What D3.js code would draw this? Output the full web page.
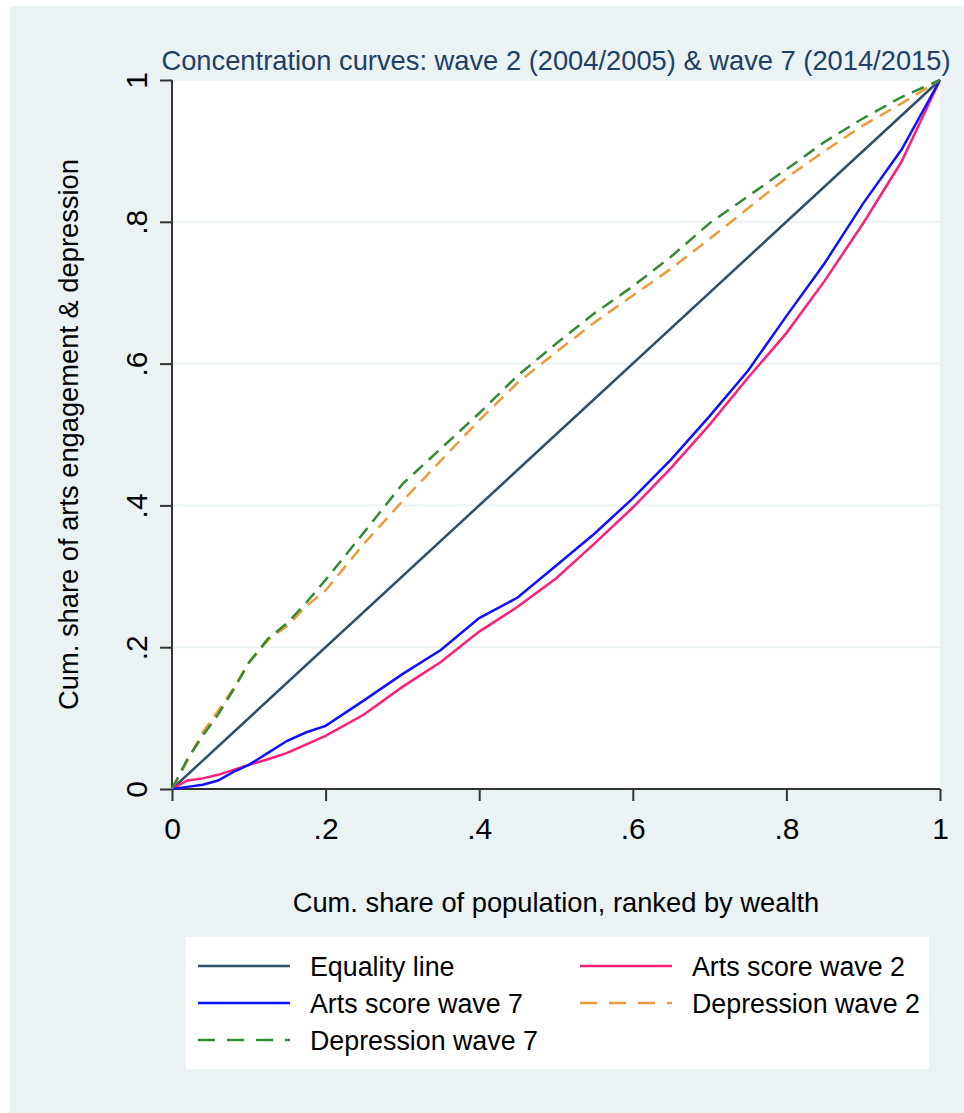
<!DOCTYPE html>
<meta charset="utf-8">
<script src="https://cdn.jsdelivr.net/npm/d3@7"></script>
<style>
  body { margin: 0; background: #fff; }
  text { font-family: Arial, "Liberation Sans", sans-serif; }
</style>
<div id="chart"></div>
<script>
// cumulative share of population (ranked by wealth)
var popShare = [0, .02, .04, .06, .08, .1, .125, .15, .175, .2, .25, .3, .35, .4, .45, .5, .55, .6, .65, .7, .75, .8, .85, .9, .95, 1];

// concentration curves
var artsW2 = [0, .012, .015, .02, .027, .034, .042, .051, .063, .075, .105, .144, .179, .222, .257, .297, .346, .397, .453, .514, .58, .643, .717, .798, .885, 1];
var artsW7 = [0, .003, .006, .012, .024, .034, .051, .068, .08, .089, .125, .162, .196, .241, .27, .315, .36, .41, .465, .526, .59, .667, .742, .826, .902, 1];
var depW2  = [0, .04, .08, .11, .142, .178, .21, .23, .258, .28, .346, .406, .463, .52, .573, .616, .658, .696, .734, .776, .819, .862, .90, .936, .967, 1];
var depW7  = [0, .042, .075, .105, .14, .178, .212, .234, .263, .295, .362, .43, .48, .53, .583, .628, .671, .709, .751, .798, .836, .874, .913, .946, .976, 1];
var equality = [0, 1];

var xTicks = [0, .2, .4, .6, .8, 1];
var yTicks = [0, .2, .4, .6, .8, 1];
var tickFmt = function(d) { return d === 0 ? "0" : d === 1 ? "1" : String(d).replace(/^0/, ""); };

var titleText = "Concentration curves: wave 2 (2004/2005) & wave 7 (2014/2015)";
var xTitle = "Cum. share of population, ranked by wealth";
var yTitle = "Cum. share of arts engagement & depression";

var series = [
  {name: "Equality line",      x: equality, y: equality, color: "#2f4e67", dash: null},
  {name: "Arts score wave 2",  x: popShare, y: artsW2,   color: "#ff1f7a", dash: null},
  {name: "Arts score wave 7",  x: popShare, y: artsW7,   color: "#1010ff", dash: null},
  {name: "Depression wave 2",  x: popShare, y: depW2,    color: "#ef9a3a", dash: "13,8"},
  {name: "Depression wave 7",  x: popShare, y: depW7,    color: "#338a33", dash: "13,8"}
];

var W = 964, H = 1113;
var plot = {left: 172, right: 940, top: 80, bottom: 789};

var svg = d3.select("#chart").append("svg")
  .attr("width", W).attr("height", H);

// outer background
svg.append("rect").attr("x", 10).attr("y", 6)
  .attr("width", W - 10).attr("height", H - 6)
  .attr("fill", "#eaf2f3");

// plot region
svg.append("rect").attr("x", plot.left).attr("y", plot.top)
  .attr("width", plot.right - plot.left).attr("height", plot.bottom - plot.top)
  .attr("fill", "#fff");

var x = d3.scaleLinear().domain([0, 1]).range([plot.left, plot.right]);
var y = d3.scaleLinear().domain([0, 1]).range([plot.bottom, plot.top]);

// gridlines
svg.append("g").selectAll("line")
  .data(yTicks.filter(function(d) { return d > 0; }))
  .enter().append("line")
    .attr("x1", plot.left).attr("x2", plot.right)
    .attr("y1", function(d) { return y(d); }).attr("y2", function(d) { return y(d); })
    .attr("stroke", "#eaf2f3").attr("stroke-width", 2);

// axes
var xAxis = svg.append("g")
  .attr("transform", "translate(0," + plot.bottom + ")")
  .call(d3.axisBottom(x).tickValues(xTicks).tickFormat(tickFmt).tickSize(12).tickPadding(17));
var yAxis = svg.append("g")
  .attr("transform", "translate(" + plot.left + ",0)")
  .call(d3.axisLeft(y).tickValues(yTicks).tickFormat(tickFmt).tickSize(12));

[xAxis, yAxis].forEach(function(a) {
  a.select(".domain").attr("stroke", "#333").attr("stroke-width", 2);
  a.selectAll(".tick line").attr("stroke", "#333").attr("stroke-width", 2);
  a.selectAll(".tick text").attr("fill", "#000").style("font-size", "30px")
    .style("font-family", "Arial, 'Liberation Sans', sans-serif");
});
xAxis.select(".domain").attr("d", "M" + plot.left + ",0H" + plot.right);
yAxis.select(".domain").attr("d", "M0," + plot.bottom + "V" + plot.top);

// rotate y tick labels
yAxis.selectAll(".tick text")
  .attr("x", null).attr("dy", null)
  .attr("text-anchor", "middle")
  .attr("transform", "translate(-25,0) rotate(-90)");

// curves
var line = d3.line()
  .x(function(d) { return x(d[0]); })
  .y(function(d) { return y(d[1]); });

series.forEach(function(s) {
  svg.append("path")
    .datum(d3.zip(s.x, s.y))
    .attr("fill", "none")
    .attr("stroke", s.color)
    .attr("stroke-width", 2.5)
    .attr("stroke-dasharray", s.dash)
    .attr("d", line);
});

// title and axis titles
svg.append("text")
  .attr("x", (plot.left + plot.right) / 2).attr("y", 70)
  .attr("text-anchor", "middle")
  .attr("fill", "#1f3f66")
  .style("font-size", "27.3px")
  .text(titleText);

svg.append("text")
  .attr("x", (plot.left + plot.right) / 2).attr("y", 912)
  .attr("text-anchor", "middle")
  .attr("fill", "#000")
  .style("font-size", "27.3px")
  .text(xTitle);

svg.append("text")
  .attr("transform", "translate(78," + (plot.top + plot.bottom) / 2 + ") rotate(-90)")
  .attr("text-anchor", "middle")
  .attr("fill", "#000")
  .style("font-size", "27.3px")
  .text(yTitle);

// legend
var legend = svg.append("g");
legend.append("rect")
  .attr("x", 186).attr("y", 937).attr("width", 743).attr("height", 132)
  .attr("fill", "#fff");

var colX = [198, 580], rowY = [966, 1003, 1040];
series.forEach(function(s, i) {
  var cx = colX[i % 2], cy = rowY[Math.floor(i / 2)];
  legend.append("line")
    .attr("x1", cx).attr("x2", cx + 92)
    .attr("y1", cy).attr("y2", cy)
    .attr("stroke", s.color).attr("stroke-width", 2.5)
    .attr("stroke-dasharray", s.dash ? "17,12" : null);
  legend.append("text")
    .attr("x", cx + 112).attr("y", cy + 10)
    .attr("fill", "#000")
    .style("font-size", "26.8px")
    .text(s.name);
});
</script>
